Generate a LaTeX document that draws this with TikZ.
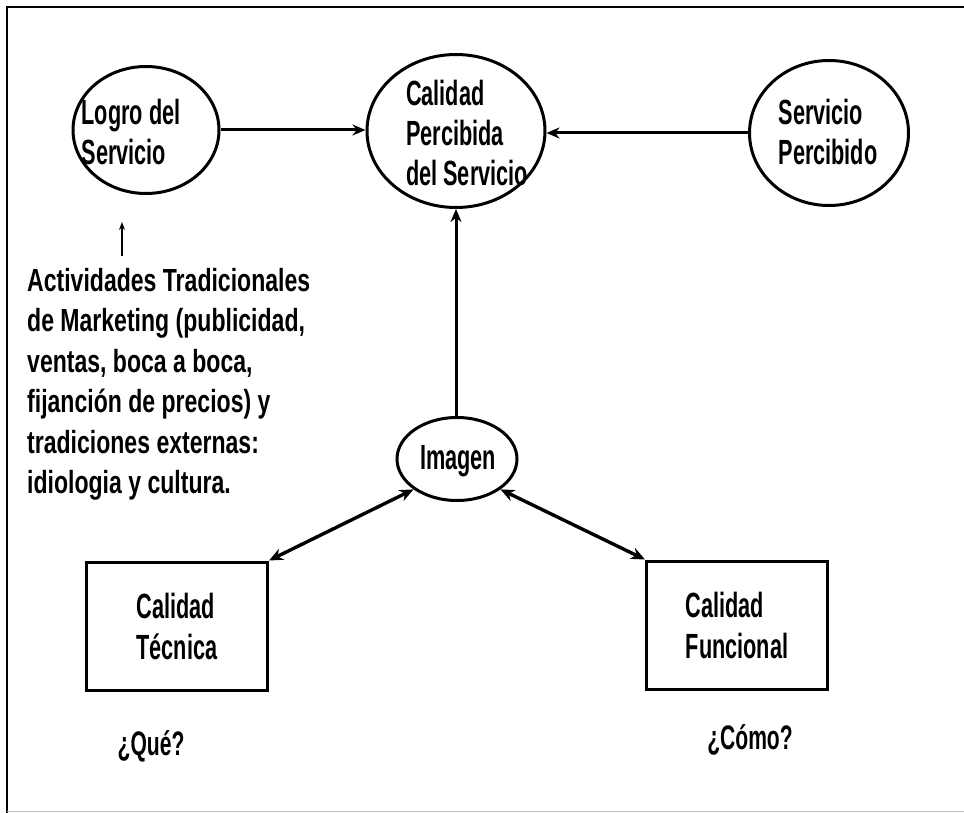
\documentclass[tikz,border=0pt]{standalone}
\usepackage{fontspec}
\setmainfont{Liberation Sans}
\newfontfamily\nodefont[FakeStretch=0.62]{Liberation Sans}
\newfontfamily\blockfont[FakeStretch=0.72]{Liberation Sans}
\usetikzlibrary{shapes.geometric,arrows.meta}
\begin{document}
\begin{tikzpicture}[x=1pt,y=-1pt,
  oval/.style={ellipse,draw,line width=3pt,inner sep=0pt},
  otext/.style={inner sep=0pt,align=left,
    font=\nodefont\bfseries\fontsize{35}{40}\selectfont},
  sbox/.style={rectangle,draw,line width=3pt,inner sep=0pt,align=left,
    font=\nodefont\bfseries\fontsize{35}{41}\selectfont},
  lbl/.style={font=\nodefont\bfseries\fontsize{34}{40}\selectfont,inner sep=0pt},
  conn/.style={line width=3pt,-{Stealth[length=13pt,width=11pt]}},
  dconn/.style={line width=3.4pt,{Stealth[length=14pt,width=12pt]}-{Stealth[length=14pt,width=12pt]}},
  thin/.style={line width=1.3pt,-{Stealth[length=8pt,width=6pt]}}]
\useasboundingbox (0,0) rectangle (964,813);
\draw[line width=2.4pt] (7,813) -- (7,7) -- (964,7);
\draw[line width=1pt,black!25] (7,811) -- (964,811);

\node[oval,minimum width=146pt,minimum height=127pt] (logro) at (146,130) {};
\node[otext] (logrot) at (131,132) {Logro del\\Servicio};
\node[oval,minimum width=178pt,minimum height=153pt] (cal) at (456,131) {};
\node[otext] (calt) at (467,133) {Calidad\\Percibida\\del Servicio};
\node[oval,minimum width=159pt,minimum height=145pt] (serv) at (829,133) {};
\node[otext] (servt) at (828,132) {Servicio\\Percibido};
\node[oval,minimum width=120pt,minimum height=83pt] (img) at (457,459) {};
\node[otext] (imgt) at (458,461) {Imagen};
\node[sbox,minimum width=181pt,minimum height=128pt] (tec) at (177,626) {Calidad\\Técnica};
\node[sbox,minimum width=181pt,minimum height=128pt] (fun) at (737,625) {Calidad\\Funcional};

\node[lbl] (que) at (151,746) {¿Qué?};
\node[lbl] (como) at (750,740) {¿Cómo?};

\node[anchor=north west,align=left,inner sep=0pt,
  font=\blockfont\bfseries\fontsize{32}{40.5}\selectfont] (act) at (27,268)
  {Actividades Tradicionales\\de Marketing (publicidad,\\ventas, boca a boca,\\fijanción de precios) y\\tradiciones externas:\\idiologia y cultura.};
\coordinate (actTop) at (122,256);

\draw[conn] (logro.east) -- (logro.east -| cal.west);
\draw[conn] (serv.west) -- (serv.west -| cal.east);
\draw[conn] (img.north -| cal.south) -- (cal.south);
\draw[thin] (actTop) -- (122,222);
\draw[dconn] (img.south west) -- (tec.north east);
\draw[dconn] (img.south east) -- (fun.north west);
\end{tikzpicture}
\end{document}
